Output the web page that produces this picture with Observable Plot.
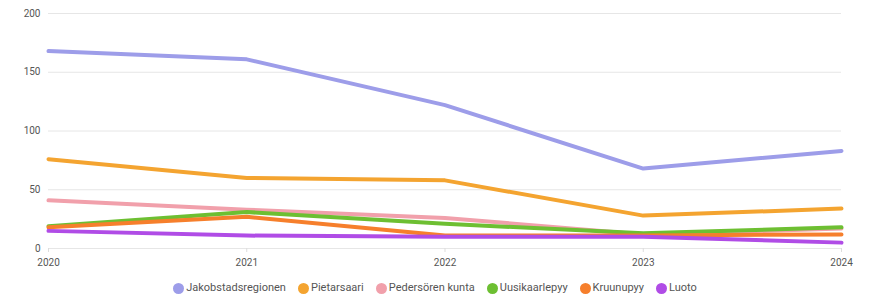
<!DOCTYPE html>
<html><head><meta charset="utf-8">
<script src="https://cdn.jsdelivr.net/npm/d3@7"></script>
<script src="https://cdn.jsdelivr.net/npm/@observablehq/plot@0.6"></script>
<style>
body{margin:0;background:#fff;font-family:Roboto,"Noto Sans",sans-serif;}
#chart svg{display:block}
#legend{display:flex;justify-content:center;gap:12px;font-size:11px;color:#555;margin-top:10px;margin-left:-4px;line-height:12px}
#legend span{display:flex;align-items:center}
#legend i{display:inline-block;width:11px;height:11px;border-radius:50%;margin-right:2px}
</style></head><body>
<div id="chart"></div>
<div id="legend"></div>
<script>
const years = [2020, 2021, 2022, 2023, 2024];
const seriesNames = ["Jakobstadsregionen","Pietarsaari","Pedersören kunta","Uusikaarlepyy","Kruunupyy","Luoto"];
const colors = ["#9d9de9","#f4a430","#f1a0ab","#6dbf32","#f67f2c","#b04ce6"];
const jakobstadsregionen = [168, 161, 122, 68, 83];
const pietarsaari = [76, 60, 58, 28, 34];
const pedersoren = [41, 33, 26, 12, 17];
const uusikaarlepyy = [19, 31, 21, 13, 18];
const kruunupyy = [18, 27, 11, 11, 12];
const luoto = [15, 11, 10, 10, 5];
const yTicks = [0, 50, 100, 150, 200];

const allSeries = [jakobstadsregionen, pietarsaari, pedersoren, uusikaarlepyy, kruunupyy, luoto];
const data = [];
seriesNames.forEach((s, i) => years.forEach((y, j) => data.push({series: s, year: y, value: allSeries[i][j]})));

const plot = Plot.plot({
  width: 874, height: 272,
  marginLeft: 48, marginRight: 33, marginTop: 13, marginBottom: 24,
  style: {fontSize: "10px", color: "#555", fontFamily: "Roboto, 'Noto Sans', sans-serif"},
  x: {domain: [2020, 2024], label: null},
  y: {domain: [0, 200], label: null},
  color: {domain: seriesNames, range: colors},
  marks: [
    Plot.gridY(yTicks, {stroke: "#e6e6e6", strokeOpacity: 1}),
    Plot.axisX({ticks: years, tickFormat: d => String(d), stroke: "#ddd", tickSize: 4, tickPadding: 6, color: "#555"}),
    Plot.axisY({ticks: yTicks, tickSize: 0, tickPadding: 8, color: "#555"}),
    Plot.line(data, {x: "year", y: "value", z: "series", stroke: "series", strokeWidth: 4, strokeLinejoin: "round"})
  ]
});
document.getElementById("chart").appendChild(plot);
const lg = document.getElementById("legend");
seriesNames.forEach((s, i) => {
  const sp = document.createElement("span");
  sp.innerHTML = `<i style="background:${colors[i]}"></i>${s}`;
  lg.appendChild(sp);
});
</script>
</body></html>
